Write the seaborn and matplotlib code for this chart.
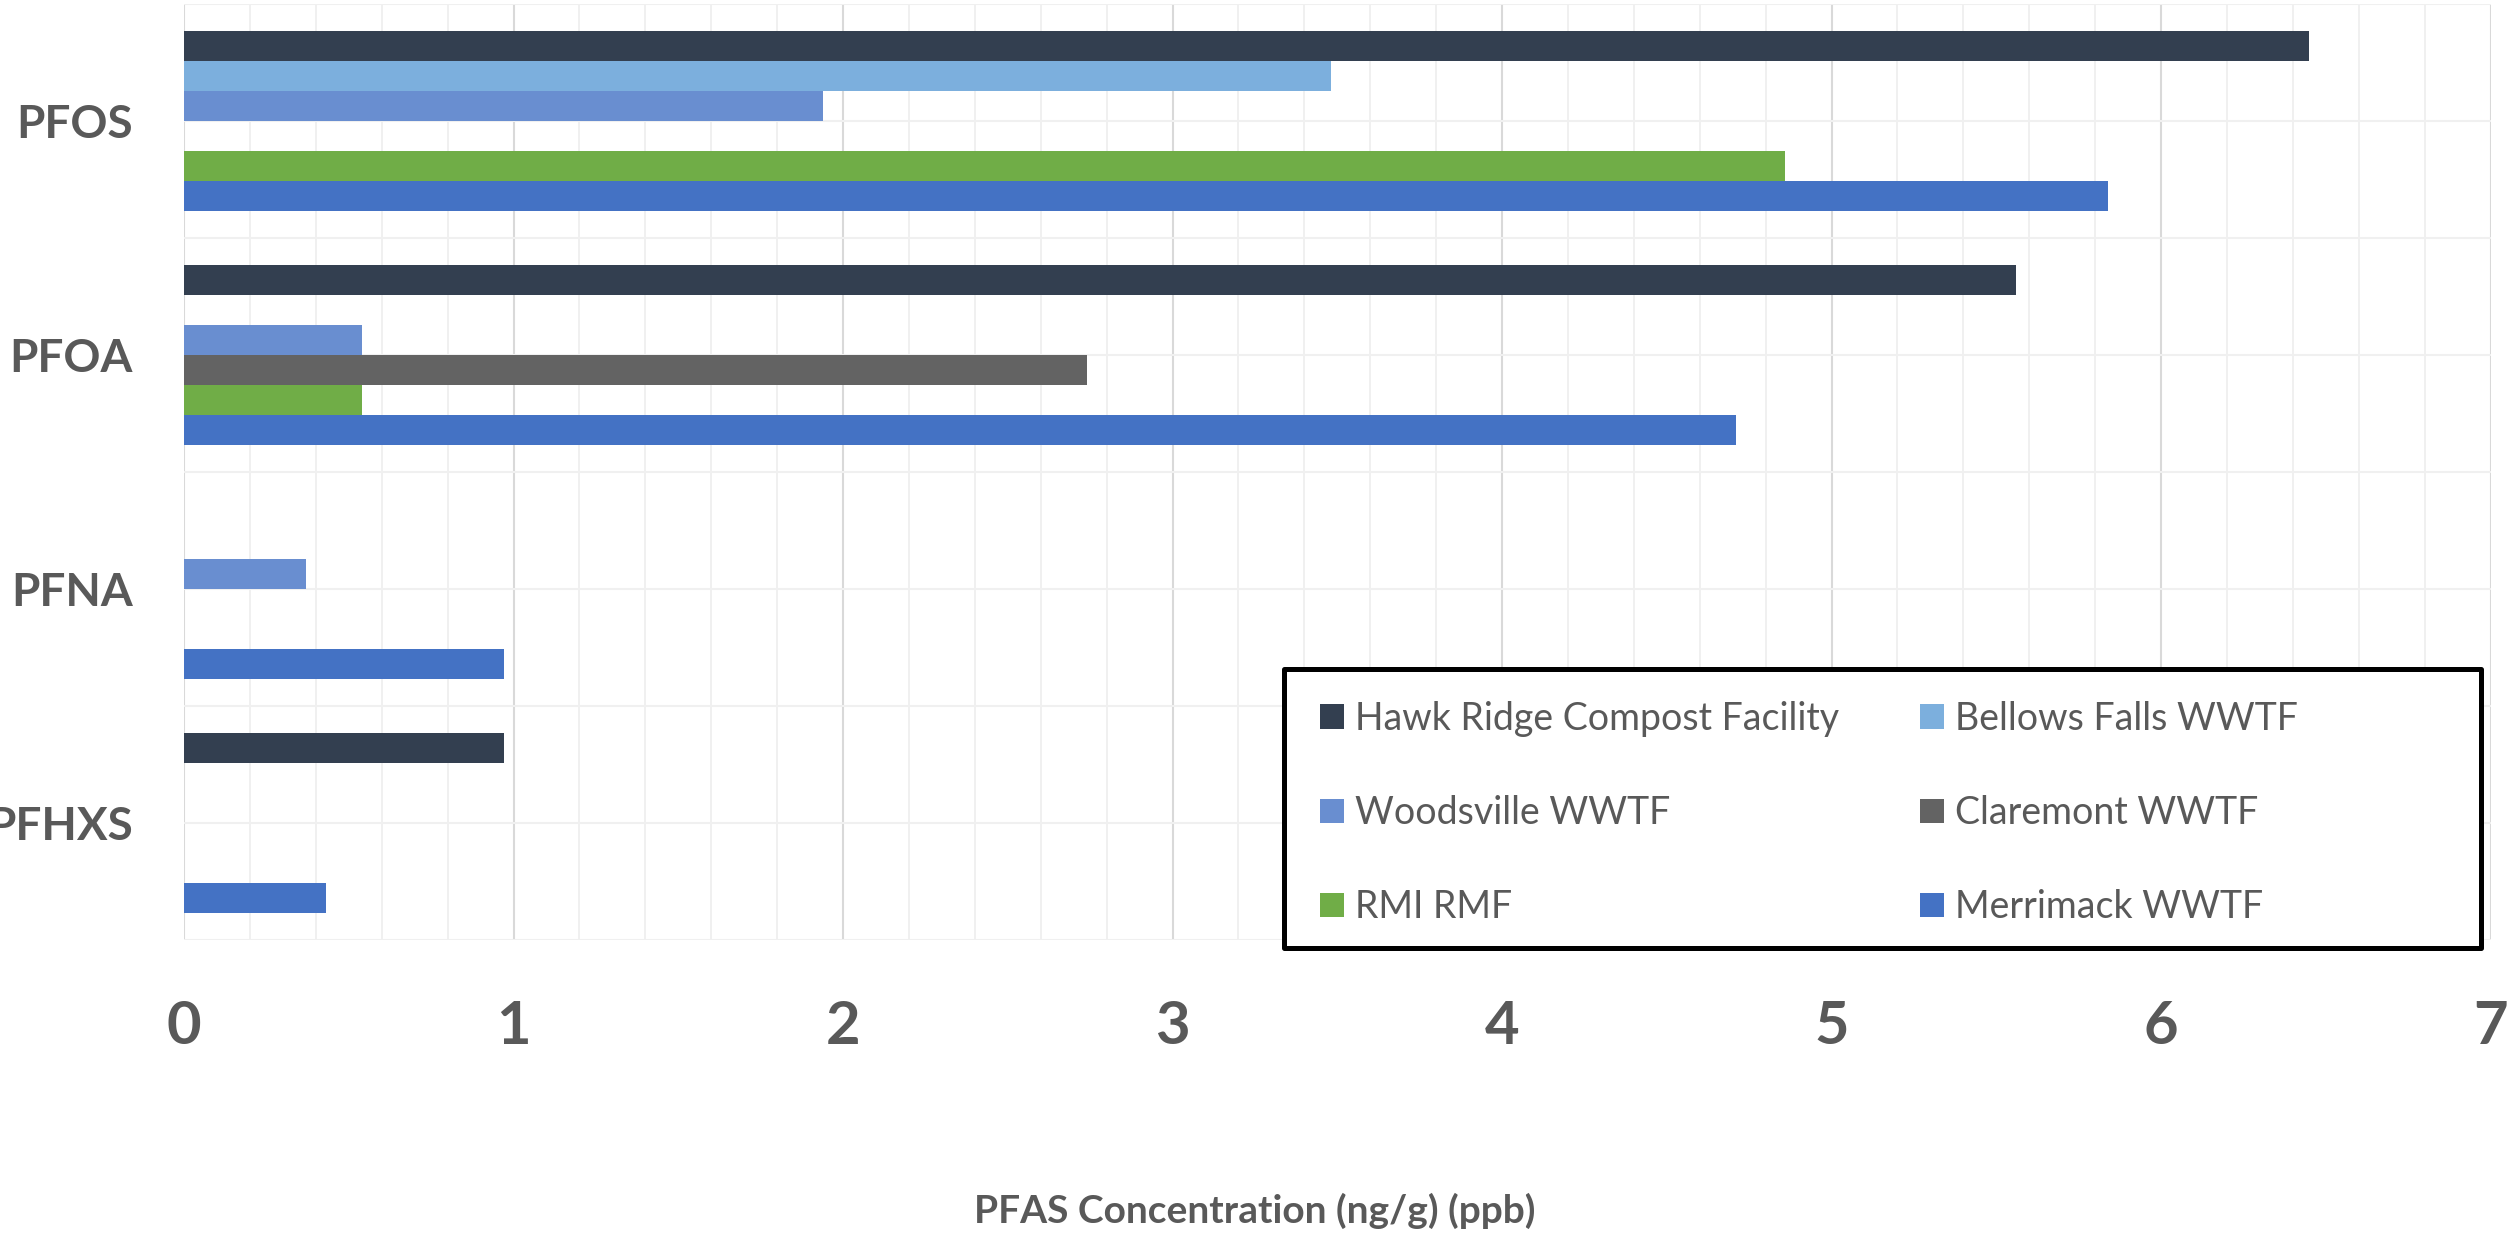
import matplotlib
matplotlib.use("Agg")
import matplotlib.pyplot as plt
from matplotlib.patches import Patch, Rectangle
from matplotlib.ticker import MultipleLocator, FixedLocator
import numpy as np
import pandas as pd
import seaborn as sns

# Compounds (category axis) and sampling sites (series)
compounds = ["PFOS", "PFOA", "PFNA", "PFHXS"]
sites = [
    "Hawk Ridge Compost Facility",
    "Bellows Falls WWTF",
    "Woodsville WWTF",
    "Claremont WWTF",
    "RMI RMF",
    "Merrimack WWTF",
]

# Concentrations in ng/g per compound; None = not reported
hawk_ridge = [6.45, 5.56, None, 0.97]
bellows_falls = [3.48, None, None, None]
woodsville = [1.94, 0.54, 0.37, None]
claremont = [None, 2.74, None, None]
rmi_rmf = [4.86, 0.54, None, None]
merrimack = [5.84, 4.71, 0.97, 0.43]

site_colors = ["#333F50", "#7CAFDD", "#698ED0", "#636363", "#70AD47", "#4472C4"]

x_ticks = [0, 1, 2, 3, 4, 5, 6, 7]
x_label = "PFAS Concentration (ng/g) (ppb)"

# Long-format table for seaborn
series = [hawk_ridge, bellows_falls, woodsville, claremont, rmi_rmf, merrimack]
rows = []
for site, vals in zip(sites, series):
    for comp, v in zip(compounds, vals):
        if v is not None:
            rows.append({"compound": comp, "site": site, "value": v})
df = pd.DataFrame(rows)

sns.set_theme(style="white")
plt.rcParams["font.family"] = ["Lato", "DejaVu Sans"]

W, H = 2509, 1235
fig = plt.figure(figsize=(W / 100, H / 100), dpi=100)
left, right, top, bottom = 184, 2490.5, 4, 940
ax = fig.add_axes([left / W, 1 - bottom / H, (right - left) / W, (bottom - top) / H])

sns.barplot(
    data=df, y="compound", x="value", hue="site",
    order=compounds, hue_order=sites, palette=site_colors,
    orient="h", width=0.77, dodge=True, gap=0, saturation=1,
    linewidth=0, legend=False, ax=ax,
)

text_grey = "#595959"
ax.set_xlim(0, 7)
ax.set_ylim(3.5, -0.5)
ax.xaxis.set_major_locator(FixedLocator(x_ticks))
ax.xaxis.set_minor_locator(MultipleLocator(0.2))
ax.yaxis.set_minor_locator(FixedLocator([-0.5, 0.5, 1.5, 2.5, 3.5]))
ax.set_axisbelow(True)
ax.grid(which="major", axis="x", color="#D9D9D9", lw=1.5)
ax.grid(which="minor", axis="x", color="#EFEFEF", lw=1.3)
ax.grid(which="both", axis="y", color="#F0F0F0", lw=1.5)
for s in ax.spines.values():
    s.set_visible(False)

ax.tick_params(axis="both", which="both", length=0)
ax.tick_params(axis="x", pad=43)
ax.tick_params(axis="y", pad=37)
ax.set_xticklabels([str(t) for t in x_ticks], fontsize=43, fontweight="bold", color=text_grey)
ax.set_yticklabels(compounds, fontsize=33, fontweight="bold", color=text_grey)
ax.set_ylabel("")
ax.set_xlabel(x_label, fontsize=28, fontweight="bold", color=text_grey, va="baseline")
ax.xaxis.set_label_coords((1254.7 - left) / (right - left), (bottom - 1223) / (bottom - top))

# Legend box with heavy black border
ax.add_patch(Rectangle(
    (1284 / W, 1 - 948 / H), (2481 - 1284) / W, (948 - 669) / H,
    transform=fig.transFigure, clip_on=False, facecolor="white",
    edgecolor="black", lw=3.6, joinstyle="round", zorder=4,
))
# Row-major ordering in a two-column legend
legend_order = [0, 2, 4, 1, 3, 5]
handles = [Patch(facecolor=site_colors[i], edgecolor="none") for i in legend_order]
labels = [sites[i] for i in legend_order]
leg = ax.legend(
    handles, labels, ncol=2, frameon=False, fontsize=27,
    loc="upper left", bbox_to_anchor=(1320 / W, 1 - 701 / H),
    bbox_transform=fig.transFigure, borderpad=0, borderaxespad=0,
    handlelength=0.64, handleheight=0.64, handletextpad=0.3,
    labelspacing=1.55, columnspacing=2.15, labelcolor=text_grey,
)
leg.set_zorder(5)

fig.savefig("out.png", dpi=100)
